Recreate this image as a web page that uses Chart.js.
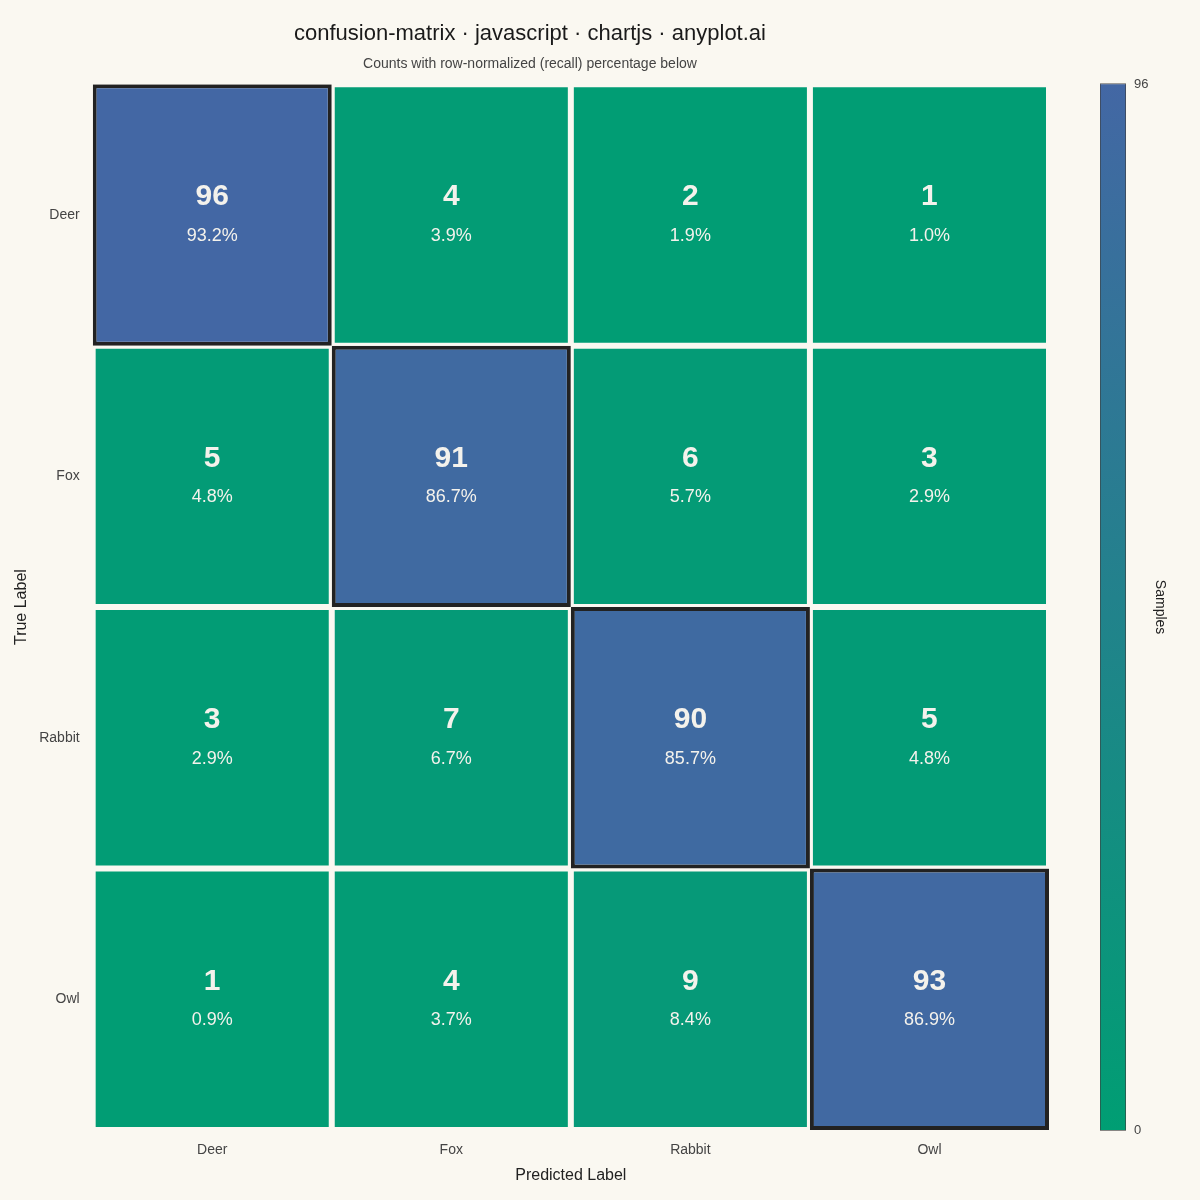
<!DOCTYPE html>
<html>
<head>
<meta charset="utf-8">
<script src="https://cdn.jsdelivr.net/npm/chart.js@4/dist/chart.umd.min.js"></script>
<style>
  html, body { margin: 0; padding: 0; background: #FAF8F1; }
  #wrap { width: 1200px; height: 1200px; position: relative; }
</style>
</head>
<body>
<div id="wrap"><canvas id="c"></canvas></div>
<script>
// ---- data ----
const predictedLabels = ["Deer", "Fox", "Rabbit", "Owl"];
const trueLabels = ["Deer", "Fox", "Rabbit", "Owl"];
const rowDeer = [96, 4, 2, 1];
const rowFox = [5, 91, 6, 3];
const rowRabbit = [3, 7, 90, 5];
const rowOwl = [1, 4, 9, 93];
const colorbarTicks = [0, 96];

const counts = [rowDeer, rowFox, rowRabbit, rowOwl];
const cbMin = Math.min(...colorbarTicks);
const cbMax = Math.max(...colorbarTicks);

const BG = "#FAF8F1";
const LOW = [0, 158, 115];
const HIGH = [67, 103, 164];
function colorFor(v) {
  const t = (v - cbMin) / (cbMax - cbMin);
  const c = LOW.map((l, i) => Math.round(l + (HIGH[i] - l) * t));
  return `rgb(${c[0]},${c[1]},${c[2]})`;
}
const FONT = "'Liberation Sans', Arial, Helvetica, sans-serif";

const datasets = counts.map((row, r) => ({
  label: trueLabels[r],
  yAxisID: "y",
  xAxisID: "x",
  data: row.map(() => [r, r + 1]),
  counts: row,
  backgroundColor: row.map(v => colorFor(v)),
  borderColor: row.map((v, c) => c === r ? "#222222" : BG),
  borderWidth: row.map((v, c) => c === r ? 4 : 3),
  borderSkipped: false,
  inflateAmount: 0,
  grouped: false,
  barPercentage: 1,
  categoryPercentage: 1
}));

const cellText = {
  id: "cellText",
  afterDatasetsDraw(chart) {
    const ctx = chart.ctx;
    ctx.save();
    ctx.textAlign = "center";
    ctx.textBaseline = "middle";
    ctx.fillStyle = "#F4F2EC";
    chart.data.datasets.forEach((ds, di) => {
      const meta = chart.getDatasetMeta(di);
      const total = ds.counts.reduce((a, b) => a + b, 0);
      meta.data.forEach((el, i) => {
        const p = el.getCenterPoint();
        const v = ds.counts[i];
        ctx.font = `bold 30px ${FONT}`;
        ctx.fillText(String(v), p.x, p.y - 18);
        ctx.font = `18px ${FONT}`;
        ctx.fillText((v / total * 100).toFixed(1) + "%", p.x, p.y + 21);
      });
    });
    ctx.restore();
  }
};

const colorbar = {
  id: "colorbar",
  afterDraw(chart) {
    const ctx = chart.ctx;
    const sc = chart.scales.cb;
    const ca = chart.chartArea;
    const x0 = ca.right + 51;
    const w = 26;
    const yTop = sc.getPixelForValue(cbMax);
    const yBot = sc.getPixelForValue(cbMin);
    ctx.save();
    const g = ctx.createLinearGradient(0, yBot, 0, yTop);
    g.addColorStop(0, colorFor(cbMin));
    g.addColorStop(1, colorFor(cbMax));
    ctx.fillStyle = g;
    ctx.fillRect(x0, yTop, w, yBot - yTop);
    ctx.strokeStyle = "rgba(60,60,60,0.6)";
    ctx.lineWidth = 1;
    ctx.strokeRect(x0 + 0.5, yTop - 0.5, w - 1, yBot - yTop + 1);
    ctx.fillStyle = "#444444";
    ctx.font = `13px ${FONT}`;
    ctx.textAlign = "left";
    ctx.textBaseline = "middle";
    colorbarTicks.forEach(t => {
      ctx.fillText(String(t), x0 + w + 8, sc.getPixelForValue(t));
    });
    ctx.translate(x0 + w + 34, (yTop + yBot) / 2);
    ctx.rotate(Math.PI / 2);
    ctx.textAlign = "center";
    ctx.fillStyle = "#222222";
    ctx.font = `14px ${FONT}`;
    ctx.fillText("Samples", 0, 0);
    ctx.restore();
  }
};

new Chart(document.getElementById("c"), {
  type: "bar",
  data: { labels: predictedLabels, datasets },
  plugins: [cellText, colorbar],
  options: {
    responsive: true,
    maintainAspectRatio: false,
    animation: false,
    devicePixelRatio: 1,
    layout: { padding: { left: 11, right: 151, top: 10, bottom: 8 } },
    plugins: {
      legend: { display: false },
      tooltip: { enabled: false },
      title: {
        display: true,
        text: "confusion-matrix · javascript · chartjs · anyplot.ai",
        color: "#1a1a1a",
        font: { family: FONT, size: 22, weight: "normal" },
        padding: { top: 11, bottom: 7 }
      },
      subtitle: {
        display: true,
        text: "Counts with row-normalized (recall) percentage below",
        color: "#444444",
        font: { family: FONT, size: 14 },
        padding: { top: 1, bottom: 12 }
      }
    },
    scales: {
      x: {
        type: "category",
        offset: true,
        grid: { display: false, drawTicks: false },
        border: { display: false },
        ticks: { color: "#444444", font: { family: FONT, size: 14 }, padding: 12 },
        title: {
          display: true, text: "Predicted Label", color: "#222222",
          font: { family: FONT, size: 16 }, padding: { top: -5, bottom: 7 }
        }
      },
      y: {
        type: "linear",
        min: 0,
        max: trueLabels.length,
        reverse: true,
        grid: { display: false, drawTicks: false },
        border: { display: false },
        afterBuildTicks(scale) {
          scale.ticks = trueLabels.map((_, i) => ({ value: i + 0.5 }));
        },
        ticks: {
          color: "#444444",
          font: { family: FONT, size: 14 },
          padding: 13,
          callback: (v) => trueLabels[Math.floor(v)]
        },
        title: {
          display: true, text: "True Label", color: "#222222",
          font: { family: FONT, size: 16 }, padding: { top: 1, bottom: -5 }
        }
      },
      cb: {
        type: "linear",
        axis: "y",
        position: "right",
        display: false,
        min: cbMin,
        max: cbMax
      }
    }
  }
});
</script>
</body>
</html>
